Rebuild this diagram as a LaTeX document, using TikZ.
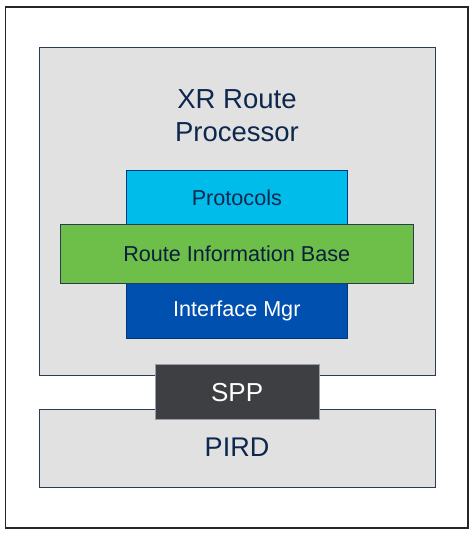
\documentclass[tikz,border=0pt]{standalone}
\usepackage{fontspec}
\setmainfont{Liberation Sans}
\definecolor{bgGray}{HTML}{E1E1E1}
\definecolor{lineNavy}{HTML}{2B3A55}
\definecolor{txtNavy}{HTML}{0D274D}
\definecolor{protoCyan}{HTML}{00BCEB}
\definecolor{ribGreen}{HTML}{6EBE4A}
\definecolor{imBlue}{HTML}{0051AF}
\definecolor{sppGray}{HTML}{3E3F42}
\tikzset{
  box/.style={draw=lineNavy, line width=1pt, rectangle, inner sep=0pt, outer sep=0pt},
  lbl/.style={font=\fontsize{21.6}{25}\selectfont, inner sep=0pt},
}
\begin{document}
\begin{tikzpicture}[x=1pt,y=1pt]
\useasboundingbox (0,0) rectangle (474,536);
\fill[white] (0,0) rectangle (474,536);
\node[draw=black!85, line width=1.3pt, rectangle, inner sep=0pt, minimum width=462.5pt, minimum height=521pt] (frame) at (236.75,268.5) {};
% XR Route Processor
\node[box, fill=bgGray, minimum width=396pt, minimum height=327.7pt] (rp) at (237,324.15) {};
\node[font=\fontsize{27.5}{33}\selectfont, text=txtNavy, align=center, inner sep=0pt] (rptxt) at (237,420.5) {XR Route\\Processor};
% Protocols
\node[box, draw=imBlue!70!black, fill=protoCyan, minimum width=221.7pt, minimum height=54.3pt, lbl, text=txtNavy] (proto) at (236.85,338.15) {Protocols};
% Interface Mgr
\node[box, draw=imBlue!70!black, fill=imBlue, minimum width=221.7pt, minimum height=54.3pt, lbl, text=white] (im) at (236.85,224.85) {Interface Mgr};
% RIB
\node[box, draw=lineNavy, fill=ribGreen, minimum width=353pt, minimum height=59.7pt, lbl, text=txtNavy!80!black] (rib) at (236.8,281.85) {Route Information Base};
% PIRD
\node[box, fill=bgGray, minimum width=396pt, minimum height=77.7pt] (pird) at (237,87.15) {};
\node[font=\fontsize{27}{33}\selectfont, text=txtNavy, inner sep=0pt] (pirdtxt) at (237,89) {PIRD};
% SPP
\node[box, draw=bgGray!60!lineNavy, fill=sppGray, minimum width=164.3pt, minimum height=55pt, font=\fontsize{26}{31}\selectfont, text=white] (spp) at (237.15,143.5) {SPP};
\end{tikzpicture}
\end{document}
